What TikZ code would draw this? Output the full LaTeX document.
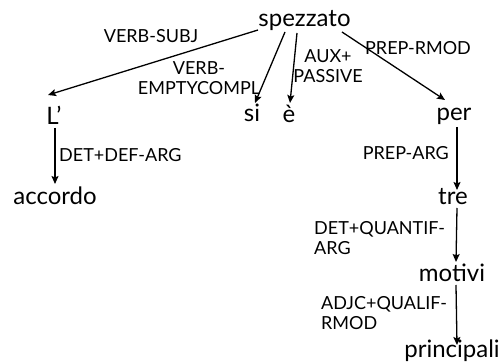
\documentclass[tikz,border=0pt]{standalone}
\usepackage{fontspec}
\setmainfont{Lato}
\usetikzlibrary{arrows.meta}
\begin{document}
\begin{tikzpicture}[x=1pt,y=-1pt,
  word/.style={font=\fontsize{24}{28}\selectfont, inner sep=0pt, anchor=base},
  rel/.style={font=\fontsize{18}{20}\selectfont, inner sep=0pt, anchor=base},
  dep/.style={-{Stealth[length=8pt,width=7pt,inset=1.5pt]}, line width=1.3pt}]
\useasboundingbox (0,0) rectangle (504,363);
% words
\node[word] (sp) at (304.5,27) {spezzato};
\node[word] (L) at (54,125) {L’};
\node[word] (si) at (252,122) {si};
\node[word] (e) at (289,123) {è};
\node[word] (per) at (454,121) {per};
\node[word] (acc) at (55,205) {accordo};
\node[word] (tre) at (453,205) {tre};
\node[word] (mot) at (452,282) {motivi};
\node[word] (pri) at (452,358) {principali};
% relation labels (multi-line nodes: base = last line)
\node[rel] (l1) at (151,43) {VERB-SUBJ};
\node[rel, align=center] (l2) at (199,95) {VERB-\\EMPTYCOMPL};
\node[rel, align=center] (l3) at (328,83) {AUX+\\PASSIVE};
\node[rel] (l4) at (418,55) {PREP-RMOD};
\node[rel, anchor=base west] (l5) at (59,162) {DET+DEF-ARG};
\node[rel, anchor=base east] (l6) at (449,160) {PREP-ARG};
\node[rel, anchor=base west, align=left] (l7) at (314,255) {DET+QUANTIF-\\ARG};
\node[rel, anchor=base west, align=left] (l8) at (321,330) {ADJC+QUALIF-\\RMOD};
% arcs
\draw[dep] ([shift={(-46.5,3)}]sp.base) -- ([shift={(-6,-30)}]L.base);
\draw[dep] ([shift={(-19.5,5)}]sp.base) -- ([shift={(3,-19)}]si.base);
\draw[dep] ([shift={(-7.5,6)}]sp.base) -- ([shift={(1,-20)}]e.base);
\draw[dep] ([shift={(37.5,5)}]sp.base) -- ([shift={(-9,-21)}]per.base);
\draw[dep] ([shift={(1,3)}]L.base) -- ([shift={(0,-21)}]acc.base);
\draw[dep] ([shift={(3,6)}]per.base) -- ([shift={(4,-15)}]tre.base);
\draw[dep] ([shift={(4,3)}]tre.base) -- ([shift={(4,-20)}]mot.base);
\draw[dep] ([shift={(4,3)}]mot.base) -- ([shift={(5,-13)}]pri.base);
\end{tikzpicture}
\end{document}
